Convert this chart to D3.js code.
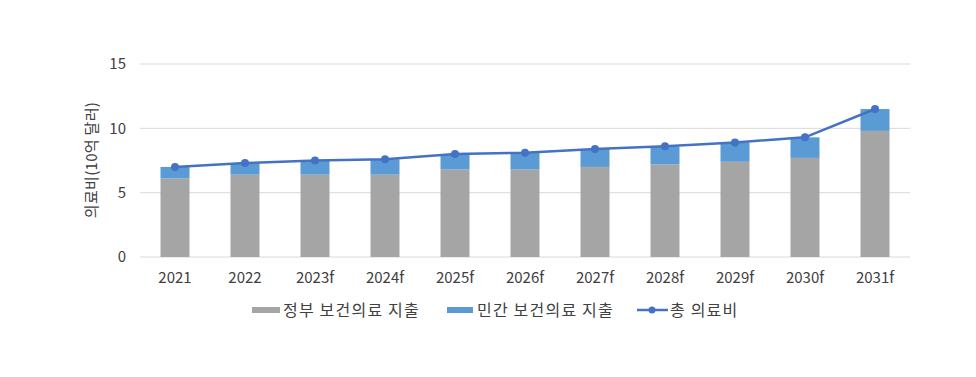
<!DOCTYPE html>
<html>
<head>
<meta charset="utf-8">
<script src="https://cdn.jsdelivr.net/npm/d3@7"></script>
<style>
  body { margin: 0; background: #fff; }
  text { font-family: "Noto Sans CJK KR", "Noto Sans", sans-serif; fill: #404040; }
</style>
</head>
<body>
<div id="main"></div>
<script>
// data (billion dollars)
var years = ["2021", "2022", "2023f", "2024f", "2025f", "2026f", "2027f", "2028f", "2029f", "2030f", "2031f"];
var govSpend = [6.1, 6.4, 6.4, 6.4, 6.8, 6.8, 7.0, 7.2, 7.4, 7.7, 9.8];
var privSpend = [0.9, 0.9, 1.1, 1.2, 1.2, 1.3, 1.4, 1.4, 1.5, 1.6, 1.7];
var totalSpend = [7.0, 7.3, 7.5, 7.6, 8.0, 8.1, 8.4, 8.6, 8.9, 9.3, 11.5];
var yTicks = [0, 5, 10, 15];
var seriesNames = ["정부 보건의료 지출", "민간 보건의료 지출", "총 의료비"];

var W = 976, H = 377;
var margin = {top: 64, right: 66, bottom: 120, left: 140};
var width = W - margin.left - margin.right,
    height = H - margin.top - margin.bottom;

var translate = function(x, y) { return "translate(" + x + "," + y + ")"; };

var svg = d3.select("#main").append("svg")
    .attr("width", W)
    .attr("height", H);

var g = svg.append("g").attr("transform", translate(margin.left, margin.top));

var x = d3.scaleBand().domain(years).range([0, width]);
var y = d3.scaleLinear().domain([0, 15]).range([height, 0]);

var barW = 29;

// gridlines
g.selectAll(".grid")
  .data(yTicks)
  .enter().append("line")
    .attr("x1", 0).attr("x2", width)
    .attr("y1", function(d) { return y(d); })
    .attr("y2", function(d) { return y(d); })
    .attr("stroke", "#d9d9d9")
    .attr("stroke-width", 1);

// y tick labels
g.selectAll(".ytick")
  .data(yTicks)
  .enter().append("text")
    .attr("x", -14)
    .attr("y", function(d) { return y(d); })
    .attr("dy", "0.35em")
    .attr("text-anchor", "end")
    .style("font-size", "15px")
    .text(function(d) { return d; });

// x tick labels
g.selectAll(".xtick")
  .data(years)
  .enter().append("text")
    .attr("x", function(d) { return x(d) + x.bandwidth() / 2; })
    .attr("y", height + 26)
    .attr("text-anchor", "middle")
    .style("font-size", "15px")
    .text(function(d) { return d; });

// y axis title
svg.append("text")
    .attr("transform", translate(97, 160) + " rotate(-90)")
    .attr("text-anchor", "middle")
    .style("font-size", "15px")
    .style("letter-spacing", "0.3px")
    .text("의료비(10억 달러)");

// stacked bars
var stackData = years.map(function(yr, i) {
  return {year: yr, gov: govSpend[i], priv: privSpend[i]};
});

g.selectAll(".gov")
  .data(stackData)
  .enter().append("rect")
    .attr("x", function(d) { return x(d.year) + (x.bandwidth() - barW) / 2; })
    .attr("y", function(d) { return y(d.gov); })
    .attr("width", barW)
    .attr("height", function(d) { return y(0) - y(d.gov); })
    .attr("fill", "#a5a5a5");

g.selectAll(".priv")
  .data(stackData)
  .enter().append("rect")
    .attr("x", function(d) { return x(d.year) + (x.bandwidth() - barW) / 2; })
    .attr("y", function(d) { return y(d.gov + d.priv); })
    .attr("width", barW)
    .attr("height", function(d) { return y(d.gov) - y(d.gov + d.priv); })
    .attr("fill", "#5b9bd5");

// total line
var line = d3.line()
    .x(function(d, i) { return x(years[i]) + x.bandwidth() / 2; })
    .y(function(d) { return y(d); });

g.append("path")
    .datum(totalSpend)
    .attr("d", line)
    .attr("fill", "none")
    .attr("stroke", "#4472c4")
    .attr("stroke-width", 2.5);

g.selectAll(".dot")
  .data(totalSpend)
  .enter().append("circle")
    .attr("cx", function(d, i) { return x(years[i]) + x.bandwidth() / 2; })
    .attr("cy", function(d) { return y(d); })
    .attr("r", 4)
    .attr("fill", "#4472c4");

// legend
var legend = svg.append("g").attr("transform", translate(0, 310));
var legX = [252, 447, 637];

legend.append("rect").attr("x", legX[0]).attr("y", -3).attr("width", 28).attr("height", 6).attr("fill", "#a5a5a5");
legend.append("rect").attr("x", legX[1]).attr("y", -3).attr("width", 26).attr("height", 6).attr("fill", "#5b9bd5");
legend.append("line").attr("x1", legX[2]).attr("x2", legX[2] + 31).attr("y1", 0).attr("y2", 0)
    .attr("stroke", "#4472c4").attr("stroke-width", 2.5);
legend.append("circle").attr("cx", legX[2] + 15).attr("cy", 0).attr("r", 3.5).attr("fill", "#4472c4");

var textX = [283, 477, 670];
legend.selectAll(".ltext")
  .data(seriesNames)
  .enter().append("text")
    .attr("x", function(d, i) { return textX[i]; })
    .attr("y", 0)
    .attr("dy", "0.35em")
    .style("font-size", "16px")
    .style("letter-spacing", "1.2px")
    .text(function(d) { return d; });
</script>
</body>
</html>
